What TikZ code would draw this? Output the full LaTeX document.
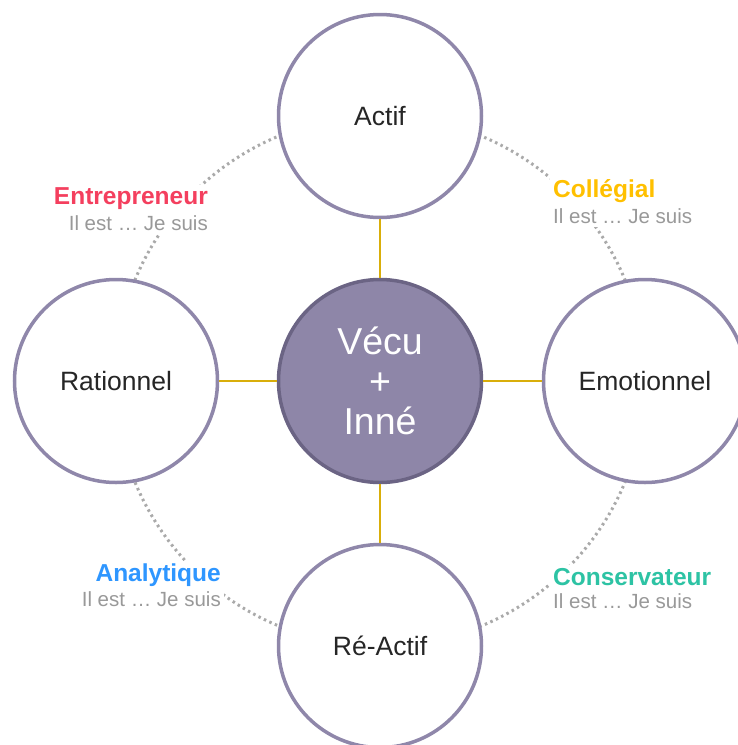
\documentclass[tikz,border=0pt]{standalone}
\usepackage{fontspec}
\setmainfont{Liberation Sans}
\definecolor{ring}{HTML}{8F87AA}
\definecolor{cfill}{HTML}{8E86A8}
\definecolor{cedge}{HTML}{6B6484}
\definecolor{link}{HTML}{D9AE0A}
\definecolor{dotc}{HTML}{AAAAAA}
\definecolor{gtext}{HTML}{999999}
\definecolor{cred}{HTML}{F43F5E}
\definecolor{cyel}{HTML}{FFC000}
\definecolor{cblue}{HTML}{2E96FF}
\definecolor{cteal}{HTML}{2DC3A4}
\begin{document}
\begin{tikzpicture}[x=1pt,y=-1pt,
  outer/.style={circle,draw=ring,line width=3.5pt,fill=white,minimum size=203pt,inner sep=0pt,font=\fontsize{26.5}{30}\selectfont,text=black!85},
  inner/.style={circle,draw=cedge,line width=3.5pt,fill=cfill,minimum size=203pt,inner sep=0pt,align=center,text=white,font=\fontsize{37.5}{40}\selectfont},
  conn/.style={draw=link,line width=2pt},
  orbit/.style={draw=dotc,line width=3pt,dash pattern=on 2.5pt off 3.5pt},
  head/.style={font=\bfseries\fontsize{24.5}{28}\selectfont,inner sep=3pt,fill=white},
  sub/.style={font=\fontsize{20.5}{24}\selectfont,text=gtext,inner sep=3pt,fill=white}]
\useasboundingbox (0,0) rectangle (738,745);
\path[orbit] (380,381) circle (265);
\node[head,text=cred,anchor=east] (h1) at (211,199) {Entrepreneur};
\node[sub,anchor=east] (s1) at (211,223) {Il est … Je suis};
\node[head,text=cyel,anchor=west] (h2) at (550,191) {Collégial};
\node[sub,anchor=west] (s2) at (550,216) {Il est … Je suis};
\node[head,text=cblue,anchor=east] (h3) at (224,575) {Analytique};
\node[sub,anchor=east] (s3) at (224,599) {Il est … Je suis};
\node[head,text=cteal,anchor=west] (h4) at (550,577) {Conservateur};
\node[sub,anchor=west] (s4) at (550,601) {Il est … Je suis};
\node[inner] (c) at (380,381) {Vécu\\+\\Inné};
\node[outer] (t) at (380,116) {Actif};
\node[outer] (l) at (116,381) {Rationnel};
\node[outer] (r) at (645,381) {Emotionnel};
\node[outer] (b) at (380,646) {Ré-Actif};
\draw[conn] (c) -- (t);
\draw[conn] (c) -- (l);
\draw[conn] (c) -- (r);
\draw[conn] (c) -- (b);
\end{tikzpicture}
\end{document}
